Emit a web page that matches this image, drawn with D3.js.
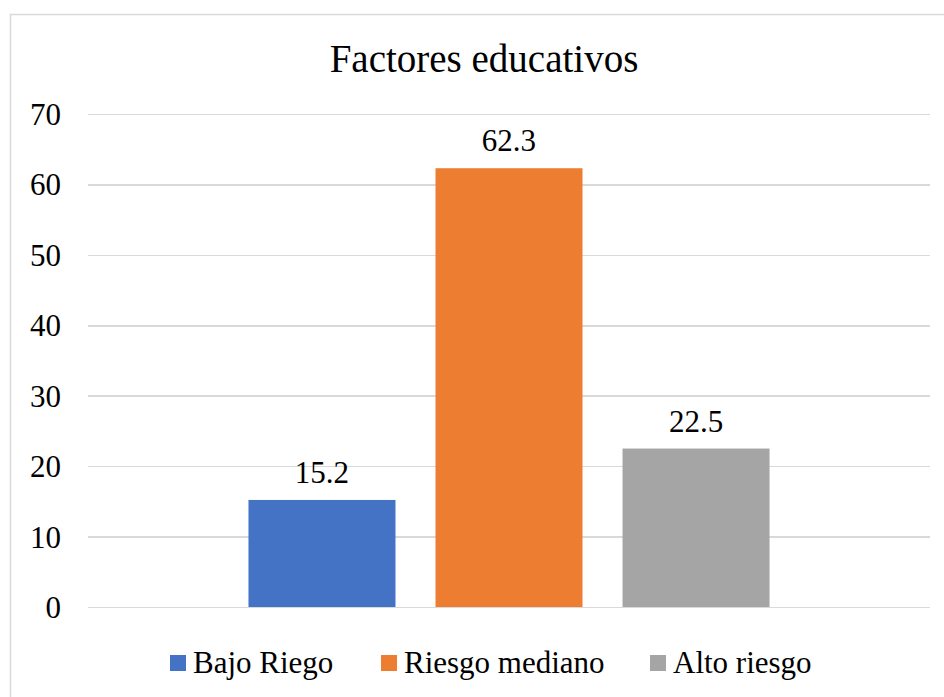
<!DOCTYPE html>
<meta charset="utf-8">
<style>
    body { margin: 0; background: #fff; }
    svg text { font-family: "Liberation Serif", "Times New Roman", serif; fill: #000; }
    .grid line { stroke: #d9d9d9; stroke-width: 1.5; shape-rendering: crispEdges; }
    .grid path { display: none; }
    .y.axis path, .y.axis line { display: none; }
    .y.axis text { font-size: 31px; }
</style>
<body>
<script src="https://cdn.jsdelivr.net/npm/d3@7"></script>
<script>
    const title = "Factores educativos";
    const series = ["Bajo Riego", "Riesgo mediano", "Alto riesgo"];
    const values = [15.2, 62.3, 22.5];
    const colors = ["#4472c4", "#ed7d31", "#a5a5a5"];
    const yTicks = [0, 10, 20, 30, 40, 50, 60, 70];

    const width = 944, height = 697;
    const plot = {left: 88, right: 930, top: 114, bottom: 607};

    const svg = d3.select("body").append("svg")
        .attr("width", width)
        .attr("height", height);

    // chart frame
    svg.append("rect")
        .attr("x", 10.5).attr("y", 14.5)
        .attr("width", 960).attr("height", 720)
        .attr("fill", "none")
        .attr("stroke", "#d9d9d9")
        .attr("stroke-width", 1.5);

    const y = d3.scaleLinear().domain([0, 70]).range([plot.bottom, plot.top]);

    // single category holding the three series
    const x0 = d3.scaleBand().domain(["g"]).range([plot.left, plot.right])
        .paddingInner(0).paddingOuter(0.308);
    const x1 = d3.scaleBand().domain(series).range([0, x0.bandwidth()])
        .paddingInner(0.214).paddingOuter(0);

    // gridlines
    svg.append("g")
        .attr("class", "grid")
        .attr("transform", "translate(" + plot.left + ",0)")
        .call(d3.axisLeft(y).tickValues(yTicks).tickSize(-(plot.right - plot.left)).tickFormat(""));

    // y axis labels
    svg.append("g")
        .attr("class", "y axis")
        .attr("transform", "translate(" + (plot.left - 15) + ",0)")
        .call(d3.axisLeft(y).tickValues(yTicks).tickSize(0).tickPadding(12))
        .attr("font-family", null)
        .attr("font-size", null)
        .selectAll("text").attr("dy", "0.34em");

    const bars = svg.append("g")
        .attr("transform", "translate(" + x0("g") + ",0)");

    bars.selectAll("rect")
        .data(values)
        .enter().append("rect")
        .attr("x", (d, i) => x1(series[i]))
        .attr("y", d => y(d))
        .attr("width", x1.bandwidth())
        .attr("height", d => y(0) - y(d))
        .attr("fill", (d, i) => colors[i]);

    bars.selectAll("text")
        .data(values)
        .enter().append("text")
        .attr("x", (d, i) => x1(series[i]) + x1.bandwidth() / 2)
        .attr("y", d => y(d) - 17)
        .attr("text-anchor", "middle")
        .style("font-size", "31px")
        .text(d => d.toFixed(1));

    // title
    svg.append("text")
        .attr("x", 484).attr("y", 72)
        .attr("text-anchor", "middle")
        .style("font-size", "39px")
        .text(title);

    // legend
    const legendX = [170, 381, 650];
    const legend = svg.selectAll(".legend")
        .data(series)
        .enter().append("g")
        .attr("class", "legend")
        .attr("transform", (d, i) => "translate(" + legendX[i] + ",655)");

    legend.append("rect")
        .attr("width", 16).attr("height", 16)
        .attr("fill", (d, i) => colors[i]);

    legend.append("text")
        .attr("x", 23).attr("y", 18)
        .style("font-size", "31px")
        .text(d => d);
</script>
</body>
